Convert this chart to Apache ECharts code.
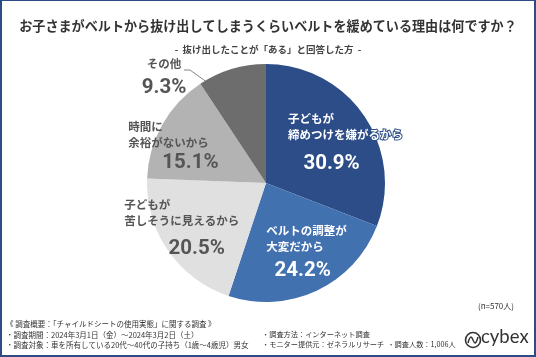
<!DOCTYPE html>
<html>
<head>
<meta charset="utf-8">
<script src="https://cdn.jsdelivr.net/npm/echarts@6/dist/echarts.min.js"></script>
<style>
html,body{margin:0;padding:0;background:#fff;}
#wrap{position:relative;width:536px;height:357px;}
#c{width:536px;height:357px;}
#frame{position:absolute;left:0;top:0;width:536px;height:357px;box-sizing:border-box;border:2px solid #2d4b84;border-top-width:1.5px;pointer-events:none;}
</style>
</head>
<body>
<div id="wrap"><div id="c"></div><div id="frame"></div></div>
<script>
// ---- data ----
const titleText = 'お子さまがベルトから抜け出してしまうくらいベルトを緩めている理由は何ですか？';
const subtitleText = '-  抜け出したことが「ある」と回答した方  -';
const categories = ['子どもが\n締めつけを嫌がるから', 'ベルトの調整が\n大変だから', '子どもが\n苦しそうに見えるから', '時間に\n余裕がないから', 'その他'];
const values = [30.9, 24.2, 20.5, 15.1, 9.3];
const sampleNote = '(n=570人)';
const footerLeft = [
  '《 調査概要：「チャイルドシートの使用実態」に関する調査 》',
  '・調査期間：2024年3月1日（金）～2024年3月2日（土）',
  '・調査対象：車を所有している20代～40代の子持ち（1歳～4歳児）男女'
];
const footerRight = [
  '・調査方法：インターネット調査',
  '・モニター提供元：ゼネラルリサーチ  ・調査人数：1,006人'
];

// ---- styles ----
const CX = 266, CY = 183, R = 119;
const sliceColors = ['#2c4d88', '#4271b0', '#e0e0e0', '#b3b3b3', '#6d6d6d'];
const labelStyles = [
  {color: '#fff', border: '#2c4d88', offset: [28, 0], pLH: 42, shift: -14},
  {color: '#fff', border: '#4271b0', offset: [14, 15], pLH: 32, shift: -4},
  {color: '#555', border: null, offset: [-33, 14], pLH: 40, shift: 15},
  {color: '#555', border: null, offset: [-38, -6], pLH: 24, shift: 17},
  {color: '#555', border: null, offset: [0, 0], pLH: 32, shift: 0}
];
const JP = "'Noto Sans CJK JP','Noto Sans',sans-serif";
const NUM = "Roboto,sans-serif";

function makeItem(i) {
  const s = labelStyles[i];
  const pad = s.shift >= 0 ? [0, 0, 0, 2 * s.shift] : [0, -2 * s.shift, 0, 0];
  const isOther = i === 4;
  return {
    name: categories[i],
    value: values[i],
    itemStyle: {color: sliceColors[i]},
    label: {
      position: isOther ? 'outside' : 'inside',
      offset: s.offset,
      color: s.color,
      rich: {
        t: {fontSize: 11.5, fontWeight: 'bold', fontFamily: JP, lineHeight: 16, color: s.color, align: isOther ? 'center' : 'left',
            textBorderColor: s.border || 'transparent', textBorderWidth: s.border ? 2 : 0},
        p: {fontSize: 20.5, fontWeight: 'bold', fontFamily: NUM, lineHeight: s.pLH, color: s.color, align: 'center', padding: pad}
      }
    },
    labelLine: {show: isOther, lineStyle: {color: '#666', width: 0.8}}
  };
}

const chart = echarts.init(document.getElementById('c'), null, {renderer: 'canvas'});
chart.setOption({
  backgroundColor: '#fff',
  animation: false,
  title: {
    text: titleText,
    subtext: subtitleText,
    left: 'center',
    top: 12,
    itemGap: 8,
    textStyle: {fontSize: 13.1, fontWeight: 'bold', color: '#333', fontFamily: JP, lineHeight: 18},
    subtextStyle: {fontSize: 9.5, fontWeight: 'bold', color: '#444', fontFamily: JP, lineHeight: 12}
  },
  series: [{
    type: 'pie',
    center: [CX, CY],
    radius: R,
    startAngle: 90,
    clockwise: true,
    avoidLabelOverlap: false,
    label: {
      show: true,
      formatter: function (p) {
        return p.name.split('\n').map(function (l) { return '{t|' + l + '}'; }).join('\n') +
          '\n{p|' + p.value.toFixed(1) + '%}';
      }
    },
    labelLayout: function (p) {
      if (p.dataIndex !== 4) return {};
      return {
        x: CX - 102, y: CY - 103, align: 'center', verticalAlign: 'middle',
        labelLinePoints: [[CX - 44, CY - 90], [CX - 76, CY - 113], [CX - 82, CY - 113]]
      };
    },
    data: values.map(function (v, i) { return makeItem(i); })
  }],
  graphic: [
    {type: 'text', right: 22, top: 302, style: {text: sampleNote, fontSize: 8, fill: '#333', fontFamily: JP}},
    {type: 'text', left: 6, top: 320, style: {text: footerLeft[0], fontSize: 7.5, fill: '#333', fontFamily: JP}},
    {type: 'text', left: 6, top: 331, style: {text: footerLeft[1], fontSize: 7.5, fill: '#333', fontFamily: JP}},
    {type: 'text', left: 6, top: 341, style: {text: footerLeft[2], fontSize: 7.5, fill: '#333', fontFamily: JP}},
    {type: 'text', left: 262, top: 331, style: {text: footerRight[0], fontSize: 7.2, fill: '#333', fontFamily: JP}},
    {type: 'text', left: 262, top: 341, style: {text: footerRight[1], fontSize: 7.2, fill: '#333', fontFamily: JP}},
    {type: 'circle', shape: {cx: 473, cy: 340, r: 7.5}, style: {fill: 'none', stroke: '#333', lineWidth: 1.6}},
    {type: 'polyline', shape: {points: [[468, 343], [471, 337], [475, 343], [478, 337]], smooth: 0.4}, style: {fill: 'none', stroke: '#333', lineWidth: 1.5}},
    {type: 'text', left: 481, top: 328, style: {text: 'cybex', fontSize: 18.5, fill: '#333', fontFamily: "Lato,'Open Sans',sans-serif"}}
  ]
});
</script>
</body>
</html>
